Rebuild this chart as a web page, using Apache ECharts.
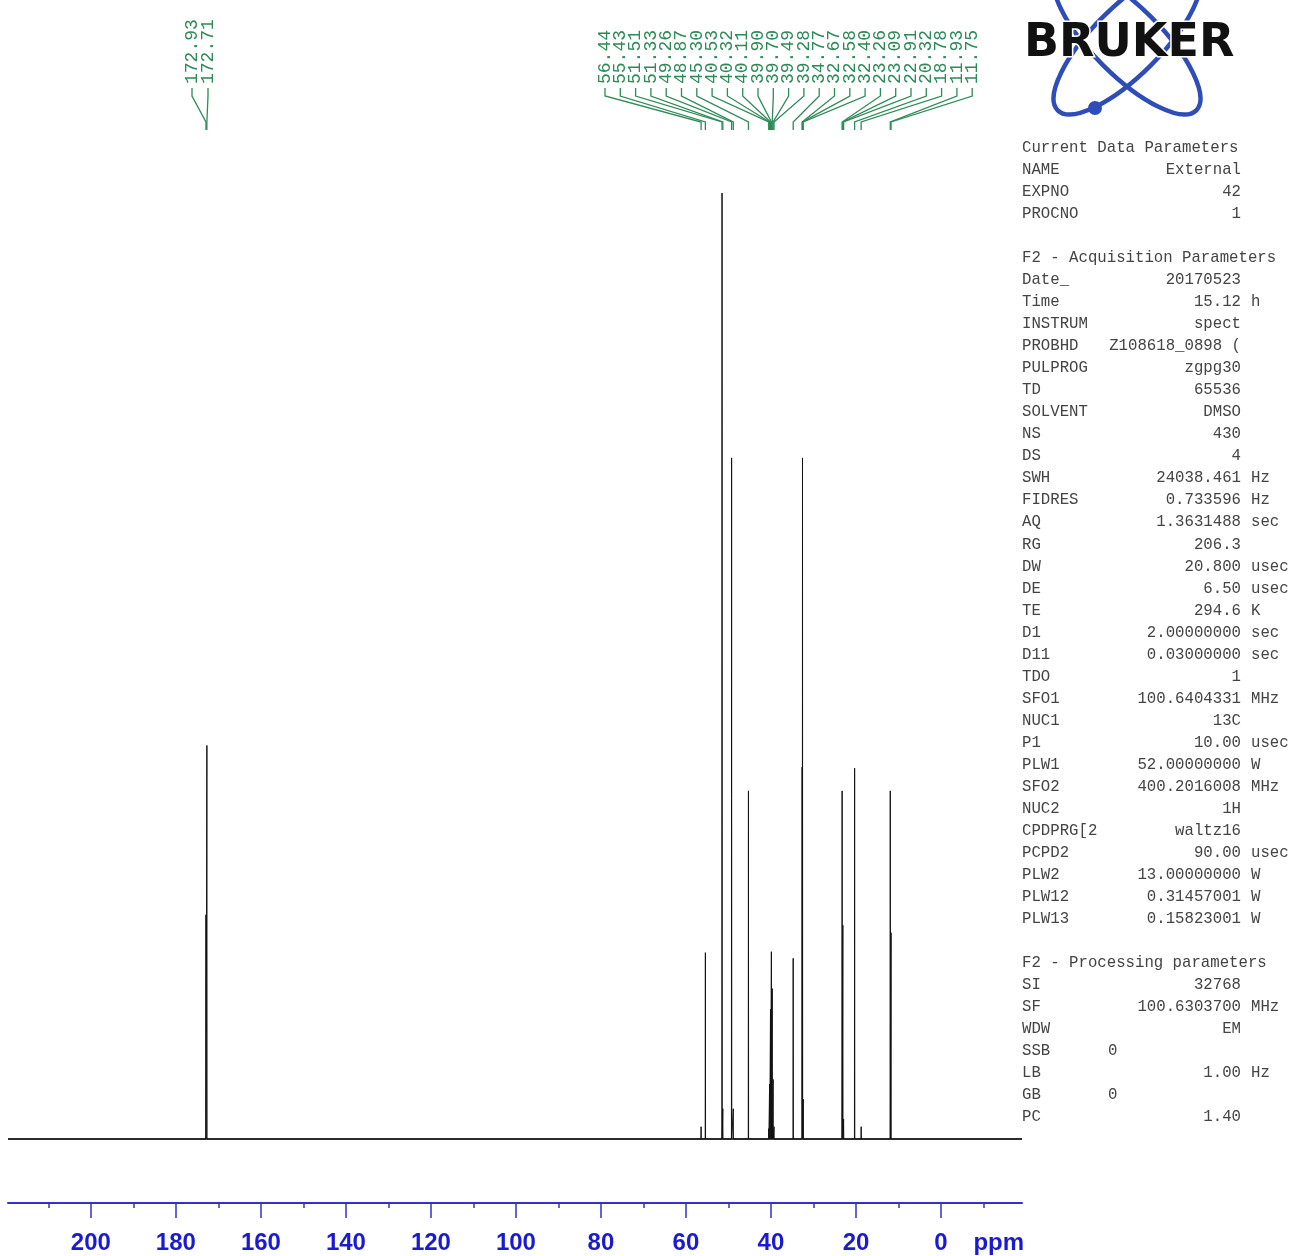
<!DOCTYPE html>
<html>
<head>
<meta charset="utf-8">
<script src="https://cdn.jsdelivr.net/npm/echarts@6/dist/echarts.min.js"></script>
<style>
html,body{margin:0;padding:0;background:#fff;}
#chart{width:1290px;height:1256px;}
</style>
</head>
<body>
<div id="chart"></div>
<script>
// ---------------- DATA ----------------
// peak positions (ppm) and relative intensities (tallest = 100)
const peakPpm = [172.93, 172.71, 56.44, 55.43, 51.51, 51.33, 49.26, 48.87, 45.30,
  40.53, 40.32, 40.11, 39.90, 39.70, 39.49, 39.28, 34.77, 32.67, 32.58, 32.40,
  23.26, 23.09, 22.91, 20.32, 18.78, 11.93, 11.75];
const peakIntensity = [23.7, 41.6, 1.3, 19.7, 100, 3.2, 72.0, 3.2, 36.8,
  1.1, 5.8, 13.7, 19.8, 15.9, 6.3, 1.3, 19.1, 39.3, 72.0, 4.2,
  36.8, 22.6, 2.1, 39.2, 1.3, 36.8, 21.8];
// peak pick labels (two groups)
const labelsGroupA = ['172.93', '172.71'];
const labelsGroupB = ['56.44', '55.43', '51.51', '51.33', '49.26', '48.87', '45.30',
  '40.53', '40.32', '40.11', '39.90', '39.70', '39.49', '39.28', '34.77', '32.67',
  '32.58', '32.40', '23.26', '23.09', '22.91', '20.32', '18.78', '11.93', '11.75'];
// axis
const xMajorTicks = [200, 180, 160, 140, 120, 100, 80, 60, 40, 20, 0];
const xMinorTicks = [210, 190, 170, 150, 130, 110, 90, 70, 50, 30, 10, -10];
const xAxisRange = [-19.06, 219.5];
const axisUnit = 'ppm';
const axisUnitAt = -13.6;
// acquisition / processing parameter listing: [key, value, unit]
const paramHeader1 = 'Current Data Parameters';
const paramsCurrent = [['NAME', 'External', ''], ['EXPNO', '42', ''], ['PROCNO', '1', '']];
const paramHeader2 = 'F2 - Acquisition Parameters';
const paramsAcq = [
  ['Date_', '20170523', ''], ['Time', '15.12', 'h'], ['INSTRUM', 'spect', ''],
  ['PROBHD', 'Z108618_0898 (', ''], ['PULPROG', 'zgpg30', ''], ['TD', '65536', ''],
  ['SOLVENT', 'DMSO', ''], ['NS', '430', ''], ['DS', '4', ''],
  ['SWH', '24038.461', 'Hz'], ['FIDRES', '0.733596', 'Hz'], ['AQ', '1.3631488', 'sec'],
  ['RG', '206.3', ''], ['DW', '20.800', 'usec'], ['DE', '6.50', 'usec'],
  ['TE', '294.6', 'K'], ['D1', '2.00000000', 'sec'], ['D11', '0.03000000', 'sec'],
  ['TDO', '1', ''], ['SFO1', '100.6404331', 'MHz'], ['NUC1', '13C', ''],
  ['P1', '10.00', 'usec'], ['PLW1', '52.00000000', 'W'], ['SFO2', '400.2016008', 'MHz'],
  ['NUC2', '1H', ''], ['CPDPRG[2', 'waltz16', ''], ['PCPD2', '90.00', 'usec'],
  ['PLW2', '13.00000000', 'W'], ['PLW12', '0.31457001', 'W'], ['PLW13', '0.15823001', 'W']];
const paramHeader3 = 'F2 - Processing parameters';
const paramsProc = [
  ['SI', '32768', ''], ['SF', '100.6303700', 'MHz'], ['WDW', 'EM', ''],
  ['SSB', '0', 'left'], ['LB', '1.00', 'Hz'], ['GB', '0', 'left'], ['PC', '1.40', '']];
const logoText = 'BRUKER';

// ---------------- LAYOUT ----------------
const GRID = {left: 8, right: 268, top: 130, bottom: 53};
const BASELINE_Y = 1139, AXIS_Y = 1203, TALLEST_Y = 193;
const pxPerUnit = (BASELINE_Y - TALLEST_Y) / 100;
const yMax = (BASELINE_Y - GRID.top) / pxPerUnit;
const yMin = -(AXIS_Y - BASELINE_Y) / pxPerUnit;
const GREEN = '#2e8b57';
const BLUE_AXIS = '#3232c8';
const BLUE_LABEL = '#1a1ad0';
const LABEL_A_X = [192, 208];
const LABEL_B_X0 = 605, LABEL_STEP = 15.3;

// spectrum polyline built from the peak list
const HALF_W = 0.04;
const spectrum = [[xAxisRange[1], 0]];
peakPpm.forEach((p, i) => {
  spectrum.push([p + HALF_W, 0], [p, peakIntensity[i]], [p - HALF_W, 0]);
});
spectrum.push([xAxisRange[0], 0]);

// label items
const labelItems = [];
labelsGroupA.forEach((t, i) => labelItems.push({value: [parseFloat(t), 0], name: t, lx: LABEL_A_X[i]}));
labelsGroupB.forEach((t, i) => labelItems.push({value: [parseFloat(t), 0], name: t, lx: LABEL_B_X0 + i * LABEL_STEP}));

// parameter text graphics
const PFONT = '15.7px "Liberation Mono", "DejaVu Sans Mono", monospace';
const PCOLOR = '#444';
const KEY_X = 1022, VAL_R = 1241, UNIT_X = 1251, LEFTVAL_X = 1108;
const ROW0 = 148, ROWH = 22.02;
const paramGraphics = [];
function addText(x, y, text, align) {
  paramGraphics.push({type: 'text', x: x, y: y, silent: true,
    style: {text: text, font: PFONT, fill: PCOLOR, align: align || 'left', verticalAlign: 'middle'}});
}
let row = 0;
function addBlock(header, list) {
  addText(KEY_X, ROW0 + row * ROWH, header); row++;
  list.forEach(r => {
    const y = ROW0 + row * ROWH;
    addText(KEY_X, y, r[0]);
    if (r[2] === 'left') { addText(LEFTVAL_X, y, r[1]); }
    else {
      addText(VAL_R, y, r[1], 'right');
      if (r[2]) addText(UNIT_X, y, r[2]);
    }
    row++;
  });
  row++;
}
addBlock(paramHeader1, paramsCurrent);
addBlock(paramHeader2, paramsAcq);
addBlock(paramHeader3, paramsProc);

// Bruker logo
const LOGO_BLUE = '#2f4db8';
const logoGraphics = [
  {type: 'ellipse', x: 1127, y: 41, rotation: Math.PI / 4, silent: true,
   shape: {cx: 0, cy: 0, rx: 98, ry: 34}, style: {fill: null, stroke: LOGO_BLUE, lineWidth: 4.5}},
  {type: 'ellipse', x: 1127, y: 41, rotation: -Math.PI / 4, silent: true,
   shape: {cx: 0, cy: 0, rx: 98, ry: 34}, style: {fill: null, stroke: LOGO_BLUE, lineWidth: 4.5}},
  {type: 'circle', x: 1095, y: 108, silent: true, shape: {r: 7}, style: {fill: LOGO_BLUE}},
  {type: 'text', x: 1024, y: 44, silent: true,
   style: {text: logoText, font: 'bold 46px "DejaVu Sans", sans-serif', fill: '#111',
           stroke: '#fff', lineWidth: 3, strokeFirst: true, align: 'left', verticalAlign: 'middle'}}
];

const chart = echarts.init(document.getElementById('chart'), null, {renderer: 'canvas'});
const axisFont = '"Liberation Sans Narrow", "Liberation Sans", Arial, sans-serif';

chart.setOption({
  animation: false,
  backgroundColor: '#fff',
  grid: Object.assign({containLabel: false, outerBoundsMode: 'none'}, GRID),
  xAxis: [{
    type: 'value', inverse: true, min: xAxisRange[0], max: xAxisRange[1], position: 'bottom',
    axisLine: {onZero: false, lineStyle: {color: BLUE_AXIS, width: 2}},
    axisTick: {customValues: xMajorTicks, length: 15, lineStyle: {color: BLUE_AXIS, width: 1.5}},
    axisLabel: {customValues: xMajorTicks.concat([axisUnitAt]), margin: 28,
      formatter: v => (v === axisUnitAt ? axisUnit : String(v)),
      color: BLUE_LABEL, fontFamily: axisFont, fontWeight: 'bold', fontSize: 24},
    splitLine: {show: false}
  }, {
    type: 'value', inverse: true, min: xAxisRange[0], max: xAxisRange[1], position: 'bottom', offset: 0,
    axisLine: {show: false, onZero: false},
    axisTick: {customValues: xMinorTicks, length: 5, lineStyle: {color: BLUE_AXIS, width: 1.5}},
    axisLabel: {show: false},
    splitLine: {show: false}
  }],
  yAxis: {type: 'value', min: yMin, max: yMax, show: false, splitLine: {show: false}},
  series: [{
    type: 'line', name: 'baseline', xAxisIndex: 0, data: [[xAxisRange[1], 0], [xAxisRange[0], 0]],
    showSymbol: false, silent: true, lineStyle: {color: '#444', width: 2.2}, z: 1
  }, {
    type: 'line', name: 'spectrum', xAxisIndex: 0, data: spectrum,
    showSymbol: false, silent: true, sampling: null, lineStyle: {color: '#111', width: 1}, z: 2
  }, {
    type: 'custom', name: 'peak labels', xAxisIndex: 0, clip: false, silent: true,
    data: labelItems,
    renderItem: function (params, api) {
      const item = labelItems[params.dataIndex];
      const px = api.coord([api.value(0), 0])[0];
      const lx = item.lx;
      return {
        type: 'group',
        children: [{
          type: 'polyline',
          shape: {points: [[lx, 88], [lx, 96], [px, 122], [px, 130]]},
          style: {stroke: GREEN, lineWidth: 1.3, fill: null}
        }, {
          type: 'text', x: lx, y: 84, rotation: Math.PI / 2,
          style: {text: item.name, font: '18px "Liberation Mono", "DejaVu Sans Mono", monospace',
                  fill: GREEN, align: 'left', verticalAlign: 'middle'}
        }]
      };
    },
    z: 3
  }],
  graphic: logoGraphics.concat(paramGraphics)
});
</script>
</body>
</html>
